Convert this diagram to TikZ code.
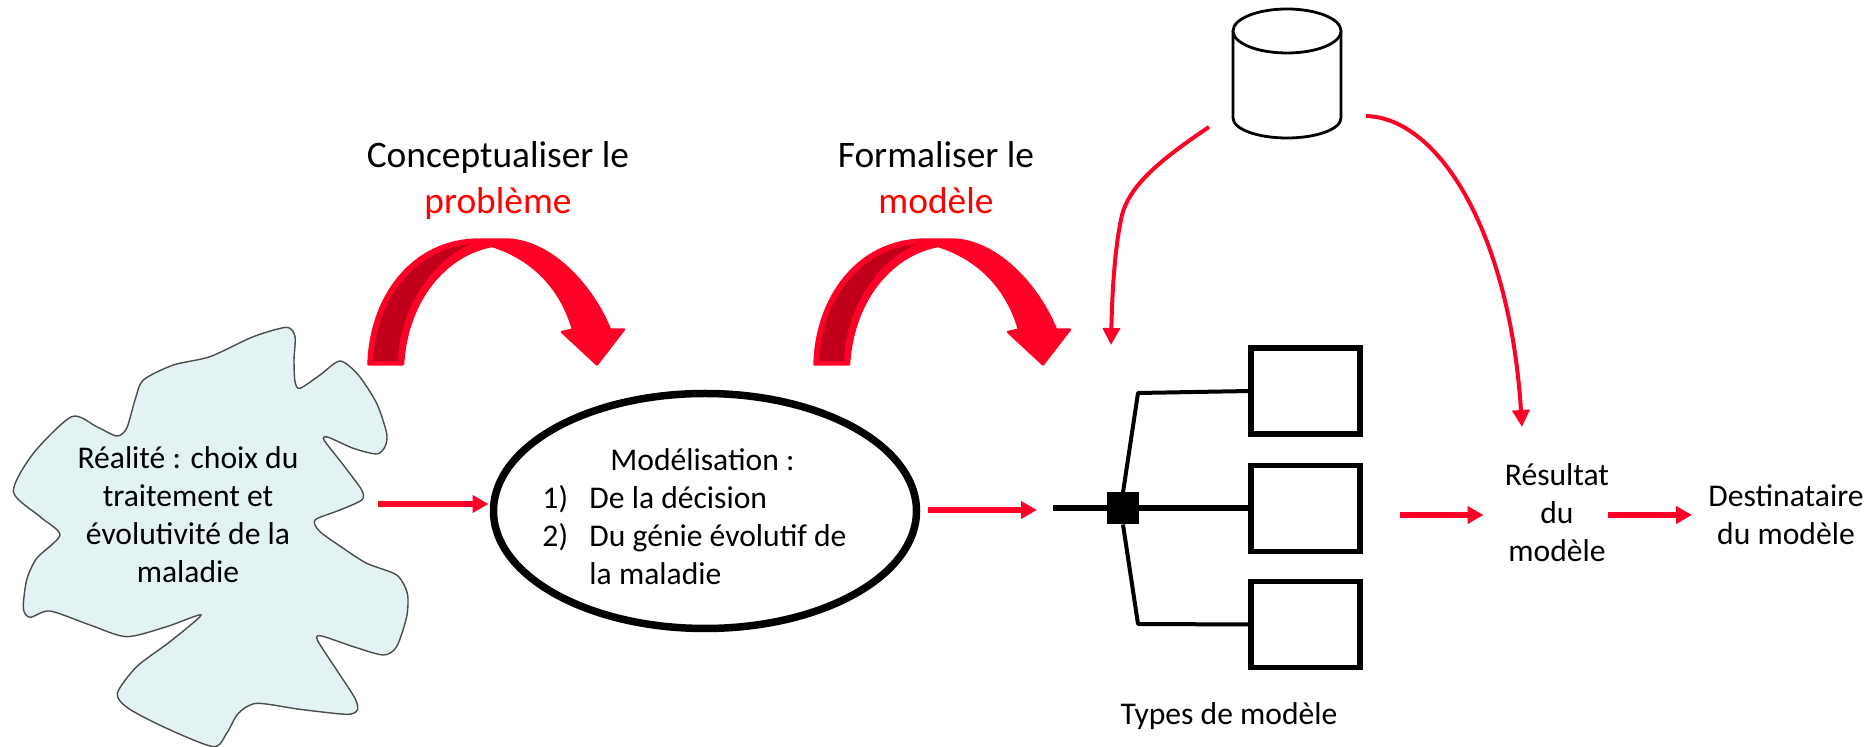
\documentclass[tikz,border=0pt]{standalone}
\usepackage{fontspec}
\setmainfont{Carlito}
\usetikzlibrary{arrows.meta,shapes.geometric}
\definecolor{rd}{HTML}{FF0027}
\definecolor{rdtxt}{HTML}{FF0000}
\definecolor{rddark}{HTML}{C00018}
\definecolor{cloudfill}{HTML}{E3F3F4}
\tikzset{
 body/.style={font=\fontsize{15.8}{19}\selectfont,align=center,inner sep=0pt},
 head/.style={font=\fontsize{18.7}{23}\selectfont,align=center,inner sep=0pt},
 redarrow/.style={draw=rd,line width=3pt,-{Triangle[length=8pt,width=8.5pt]}},
 thinred/.style={draw=rd,line width=2pt,-{Triangle[length=8.5pt,width=8.5pt]}},
 modelbox/.style={draw=black,line width=2.75pt,rectangle,minimum width=54.5pt,minimum height=43pt,inner sep=0pt,outer sep=0pt},
 stem/.style={draw=black,line width=3pt},
 branch/.style={draw=black,line width=2pt,line join=round},
 dbline/.style={draw=black,line width=1.4pt},
 bigcurve/.pic={
  \path[fill=rd,draw=rd,line width=1.2pt,line join=round]
   (368.5,364.5) .. controls (370,300) and (410,239.5) .. (480,239.5)
   -- (505,239.5) .. controls (550,239.5) and (592,285) .. (610,329.5)
   -- (624,329.5) -- (597,364.5) -- (562,332) -- (573,329.5)
   .. controls (560,285) and (530,258) .. (492,246)
   .. controls (445,255) and (407,300) .. (403,364.5) -- cycle;
  \path[fill=rddark]
   (373,361) .. controls (376,300) and (415,248) .. (472,244)
   .. controls (440,255) and (400,300) .. (398,361) -- cycle;
 }
}
\begin{document}
\begin{tikzpicture}[x=0.5pt,y=-0.5pt]
\path[use as bounding box] (0,0) rectangle (1876,747);
% cloud
\begin{scope}[x=0.16667pt,y=-0.16667pt,yshift=-150pt]
\path[fill=cloudfill,draw=black!70,line width=0.7pt]
 plot[smooth cycle,tension=0.45] coordinates {
 (860,82)(885,110)(882,180)(885,245)(900,265)(960,225)(1020,183)(1075,225)(1130,310)(1160,400)(1155,440)(1130,462)(1060,445)(985,412)(972,420)(1030,495)(1085,570)(1085,600)(1020,630)(945,660)(960,695)(1030,745)(1100,790)(1190,825)(1222,880)(1220,950)(1190,1040)(1150,1065)(1060,1040)(965,1008)(952,1020)(1010,1110)(1065,1195)(1072,1230)(1040,1243)(900,1228)(770,1210)(715,1240)(680,1300)(640,1340)(500,1285)(385,1225)(352,1180)(410,1100)(510,1025)(603,945)(500,980)(380,1010)(270,975)(150,933)(90,952)(70,925)(80,840)(110,775)(180,705)(120,650)(40,575)(100,460)(215,350)(290,380)(350,408)(380,385)(405,300)(430,240)(520,195)(630,170)(760,110)};
\end{scope}
\node[body] (realite) at (188,515) {Réalité : choix du\\traitement et\\évolutivité de la\\maladie};
% big curved arrows
\pic {bigcurve};
\pic[xshift=223pt] {bigcurve};
\node[head] (concept) at (498,181) {Conceptualiser le\\\textcolor{rdtxt}{problème}};
\node[head] (formal) at (936,178) {Formaliser le\\\textcolor{rdtxt}{modèle}};
% ellipse
\node[ellipse,draw=black,line width=3.75pt,minimum width=211.5pt,minimum height=117.5pt,inner sep=0pt,outer sep=0pt] (ell) at (705,511) {};
\node[body] (elltxt) at (694.5,520) {%
 \begin{tabular}{@{}p{23.5pt}@{}l@{}}
 \multicolumn{2}{c}{\hspace*{8pt}Modélisation :}\\
 1) & De la décision\\
 2) & Du génie évolutif de\\
    & la maladie
 \end{tabular}};
% database
\coordinate (dbc) at (1287,31);
\path[dbline,fill=white] (1233,31) -- (1233,118) arc[start angle=180,end angle=360,x radius=54,y radius=-20] -- (1341,31);
\draw[dbline,fill=white] (dbc) ellipse[x radius=54,y radius=22];
% model tree
\node[modelbox] (box1) at (1305.5,391) {};
\node[modelbox] (box2) at (1305.5,508.5) {};
\node[modelbox] (box3) at (1305.5,624.5) {};
\node[fill=black,minimum size=16pt,inner sep=0pt,outer sep=0pt] (hub) at (1123,508.5) {};
\coordinate (stemstart) at (1053,508.5);
\coordinate (bendup) at (1138,393);
\coordinate (benddown) at (1138,624);
\draw[stem] (stemstart) -- (hub) -- (box2.west);
\draw[branch] (hub.north) -- (bendup) -- (box1.west);
\draw[branch] (hub.south) -- (benddown) -- (box3.west);
% labels
\node[body] (resultat) at (1557,513) {Résultat\\du\\modèle};
\node[body] (dest) at (1786,515) {Destinataire\\du modèle};
\node[body] (types) at (1229,716) {Types de modèle};
% red arrows
\coordinate (a1s) at (378,504);
\draw[redarrow,shorten >=2.5pt] (a1s) -- (a1s -| ell.west);
\coordinate (a2s) at (928,510);
\draw[redarrow,shorten >=8pt] (a2s) -- (a2s -| stemstart);
\coordinate (a3s) at (1400,515);
\draw[redarrow,shorten >=10.5pt] (a3s) -- (a3s -| resultat.west);
\coordinate (a4s) at (1608,515);
\draw[redarrow,shorten >=8pt] (a4s) -- (a4s -| dest.west);
\coordinate (dbl) at (1209,127);
\coordinate (dbltip) at (1111,345);
\draw[thinred] (dbl) .. controls (1160,160) and (1130,185) .. (1122,215) .. controls (1114,250) and (1112,300) .. (dbltip);
\coordinate (dbr) at (1366,116);
\coordinate (dbrtip) at (1522,427);
\draw[thinred] (dbr) .. controls (1440,118) and (1510,235) .. (dbrtip);
\end{tikzpicture}
\end{document}
